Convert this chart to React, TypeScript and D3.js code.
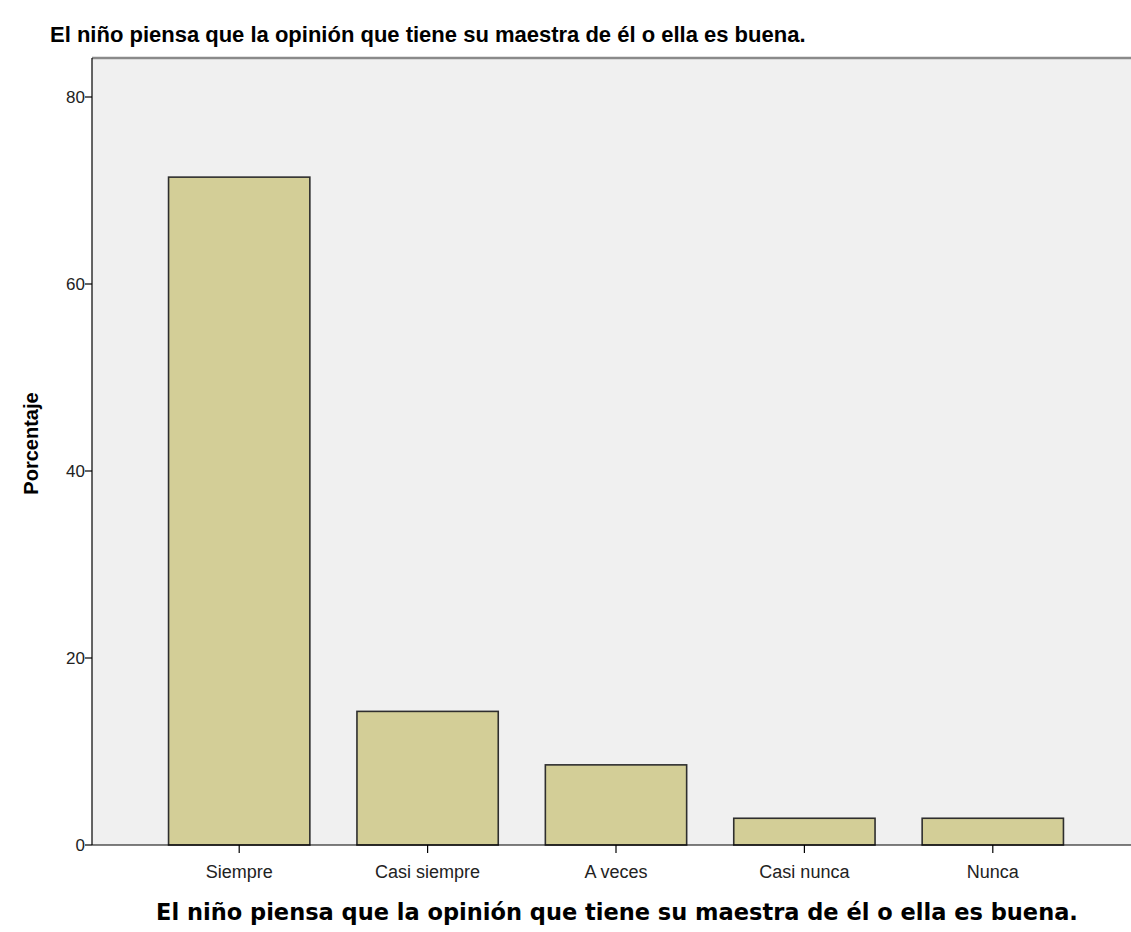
import React from "react";
import * as d3 from "d3";

const categories = ["Siempre", "Casi siempre", "A veces", "Casi nunca", "Nunca"];
const percentages = [71.43, 14.29, 8.57, 2.86, 2.86];
const yTicks = [0, 20, 40, 60, 80];
const titleText = "El niño piensa que la opinión que tiene su maestra de él o ella es buena.";
const yLabel = "Porcentaje";

const W = 1131;
const H = 932;
const plotLeft = 92;
const plotTop = 58;
const plotBottom = 845;
const plotRight = 1131;

export default function App() {
  const y = d3.scaleLinear().domain([0, 80]).range([plotBottom, plotBottom - 748]);
  const x = d3
    .scaleBand<string>()
    .domain(categories)
    .range([145, 1087])
    .paddingInner(0.25)
    .paddingOuter(0.125);

  return (
    <svg
      width={W}
      height={H}
      style={{ position: "absolute", left: 0, top: 0, background: "#fff" }}
    >
      <rect x={0} y={0} width={W} height={H} fill="#ffffff" />
      <text
        x={50}
        y={42}
        fontFamily="'Liberation Sans', Arial, sans-serif"
        fontWeight="bold"
        fontSize={22}
        fill="#000"
      >
        {titleText}
      </text>
      <rect
        x={plotLeft}
        y={plotTop}
        width={plotRight - plotLeft}
        height={plotBottom - plotTop}
        fill="#f0f0f0"
      />
      <line x1={plotLeft} x2={plotRight} y1={plotTop} y2={plotTop} stroke="#8a8a8a" strokeWidth={2.5} />
      {categories.map((c, i) => {
        const bx = x(c)!;
        const by = y(percentages[i]);
        return (
          <rect
            key={c}
            x={bx}
            y={by}
            width={x.bandwidth()}
            height={plotBottom - by}
            fill="#d3ce97"
            stroke="#2e2e2e"
            strokeWidth={1.6}
          />
        );
      })}
      <line x1={plotLeft} x2={plotLeft} y1={plotTop} y2={plotBottom} stroke="#000" strokeWidth={1.2} />
      <line x1={plotLeft} x2={plotRight} y1={plotBottom} y2={plotBottom} stroke="#000" strokeWidth={1.2} />
      {yTicks.map((t) => (
        <g key={t}>
          <line x1={plotLeft - 7} x2={plotLeft} y1={y(t)} y2={y(t)} stroke="#000" strokeWidth={1.2} />
          <text
            x={plotLeft - 7}
            y={y(t)}
            dy="0.35em"
            textAnchor="end"
            fontFamily="'Liberation Sans', Arial, sans-serif"
            fontSize={17}
            fill="#222"
          >
            {t}
          </text>
        </g>
      ))}
      {categories.map((c) => {
        const cx = x(c)! + x.bandwidth() / 2;
        return (
          <g key={c}>
            <line x1={cx} x2={cx} y1={plotBottom} y2={plotBottom + 8} stroke="#000" strokeWidth={1.2} />
            <text
              x={cx}
              y={878}
              textAnchor="middle"
              fontFamily="'Liberation Sans', Arial, sans-serif"
              fontSize={18}
              fill="#222"
            >
              {c}
            </text>
          </g>
        );
      })}
      <text
        transform={`translate(38, ${(plotTop + plotBottom) / 2 - 8}) rotate(-90)`}
        textAnchor="middle"
        fontFamily="'Liberation Sans', Arial, sans-serif"
        fontWeight="bold"
        fontSize={20}
        fill="#000"
      >
        {yLabel}
      </text>
      <text
        x={617}
        y={920}
        textAnchor="middle"
        fontFamily="'DejaVu Sans', Verdana, sans-serif"
        fontWeight="bold"
        fontSize={22.5}
        fill="#000"
      >
        {titleText}
      </text>
    </svg>
  );
}
